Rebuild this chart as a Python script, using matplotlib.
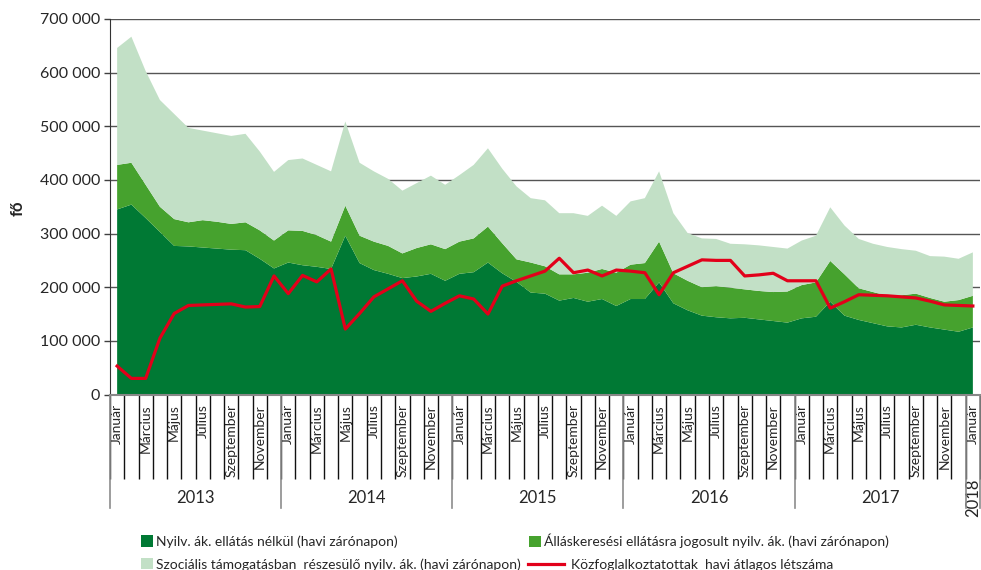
import matplotlib
matplotlib.use("Agg")
import matplotlib.pyplot as plt
from matplotlib.patches import Patch
from matplotlib.lines import Line2D
from matplotlib.ticker import FuncFormatter, FixedLocator
import numpy as np

plt.rcParams['font.family'] = ['Lato', 'DejaVu Sans']

# ---- data (thousands of persons) ----
years = ["2013", "2014", "2015", "2016", "2017", "2018"]
month_names = ["Január", "", "Március", "", "Május", "", "Július", "",
               "Szeptember", "", "November", ""]
month_labels = month_names * 5 + ["Január"]

nyilv_ellatas_nelkul = [345, 354, 329, 303, 277, 276, 274, 272, 270, 269, 253, 235,
                        246, 241, 238, 234, 296, 245, 232, 225, 217, 220, 225, 212,
                        225, 228, 246, 226, 210, 190, 188, 175, 180, 173, 178, 165,
                        178, 178, 209, 170, 157, 147, 144, 142, 143, 140, 137, 134,
                        142, 145, 173, 147, 139, 133, 127, 125, 130, 125, 121, 117,
                        125]
allaskeresesi = [83, 78, 62, 47, 50, 45, 51, 50, 48, 52, 53, 52,
                 60, 64, 59, 51, 56, 51, 53, 52, 46, 53, 55, 59,
                 60, 63, 67, 56, 42, 56, 51, 49, 44, 54, 56, 62,
                 64, 67, 76, 56, 55, 53, 58, 57, 53, 53, 54, 58,
                 62, 64, 76, 77, 59, 58, 57, 60, 58, 55, 52, 59,
                 59]
szocialis = [218, 235, 212, 199, 196, 176, 167, 165, 164, 165, 147, 128,
             131, 135, 131, 131, 157, 136, 131, 125, 117, 121, 128, 120,
             124, 137, 146, 139, 136, 120, 123, 114, 114, 106, 118, 106,
             118, 121, 131, 112, 89, 91, 88, 82, 84, 85, 84, 80,
             83, 87, 100, 91, 92, 90, 91, 86, 80, 78, 84, 77,
             81]
kozfoglalkoztatottak = [53, 30, 30, 105, 151, 166, 167, 168, 169, 163, 164, 221,
                        188, 222, 210, 234, 122, 151, 182, 197, 212, 174, 155, 170,
                        184, 178, 150, 202, 212, 221, 230, 254, 227, 232, 221, 232,
                        230, 227, 186, 227, 239, 251, 250, 250, 221, 223, 226, 212,
                        212, 212, 161, 173, 186, 185, 184, 182, 180, 174, 167, 166,
                        165]

series_labels = ["Nyilv. ák. ellátás nélkül (havi zárónapon)",
                 "Álláskeresési ellátásra jogosult nyilv. ák. (havi zárónapon)",
                 "Szociális támogatásban  részesülő nyilv. ák. (havi zárónapon)",
                 "Közfoglalkoztatottak  havi átlagos létszáma"]

c_dark, c_mid, c_light, c_red = "#007934", "#46A22E", "#C2E0C6", "#E2001A"

n = len(month_labels)
x = np.arange(n)
k = 1000

W, H = 981, 570
fig = plt.figure(figsize=(W / 100, H / 100), dpi=100)
ax = fig.add_axes([110 / W, (H - 394.5) / H, 870 / W, 375.5 / H])

ax.stackplot(x, np.array(nyilv_ellatas_nelkul) * k, np.array(allaskeresesi) * k,
             np.array(szocialis) * k, colors=[c_dark, c_mid, c_light], lw=0)
ax.plot(x, np.array(kozfoglalkoztatottak) * k, color=c_red, lw=2.3, zorder=5)

ax.set_xlim(-0.5, n - 0.5)
ax.set_ylim(0, 700000)
ax.set_yticks(np.arange(0, 700001, 100000))
ax.yaxis.set_major_formatter(FuncFormatter(lambda v, p: f"{v:,.0f}".replace(",", " ")))
ax.tick_params(axis='y', labelsize=11.5, length=4, width=1, color='#404040', pad=3,
               labelcolor='#262626')
ax.yaxis.grid(True, color='#555555', lw=1.0)
ax.set_axisbelow(True)
for g in ax.yaxis.get_gridlines():
    g.set_zorder(0.5)

for s in ['top', 'right']:
    ax.spines[s].set_visible(False)
ax.spines['left'].set_color('#333333')
ax.spines['bottom'].set_color('#888888')
ax.spines['bottom'].set_linewidth(1.5)

# month labels
ax.set_xticks(x)
ax.set_xticklabels(month_labels, rotation=90, fontsize=10, color='#262626',
                   va='top', ha='center')
ax.tick_params(axis='x', which='major', length=0, pad=7)
ax.xaxis.set_minor_locator(FixedLocator(np.arange(-0.5, n, 1.0)))
ax.tick_params(axis='x', which='minor', length=60.5, width=1.0, color='#111111')

# year row
trans = ax.get_xaxis_transform()
y_sep = -(508 - 394.5) / 375.5
y_year = -(498 - 394.5) / 375.5
bounds = [-0.5] + [12 * i + 11.5 for i in range(5)] + [n - 0.5]
for b in bounds:
    ax.plot([b, b], [0, y_sep], transform=trans, color='#8c8c8c', lw=1.2,
            clip_on=False, zorder=6)
for i, yr in enumerate(years):
    lo, hi = bounds[i], bounds[i + 1]
    rot = 90 if (hi - lo) < 2 else 0
    ax.text((lo + hi) / 2, y_year, yr, transform=trans, ha='center', va='center',
            fontsize=12, color='#262626', rotation=rot)

fig.text(18 / W, 1 - 208 / H, "fő", rotation=90, ha='center', va='center',
         fontsize=12, fontweight='bold', color='#262626')

# legends
lg_kw = dict(frameon=False, fontsize=10, borderpad=0, borderaxespad=0,
             labelcolor='#262626', handletextpad=0.25)
h_dark = Patch(facecolor=c_dark)
h_light = Patch(facecolor=c_light)
h_mid = Patch(facecolor=c_mid)
h_red = Line2D([], [], color=c_red, lw=2.3)
leg1 = fig.legend([h_dark, h_light], [series_labels[0], series_labels[2]],
                  loc='center left', bbox_to_anchor=(141 / W, 1 - 553 / H),
                  handlelength=0.85, handleheight=0.85, labelspacing=0.75, **lg_kw)
leg2 = fig.legend([h_mid], [series_labels[1]], loc='center left',
                  bbox_to_anchor=(529 / W, 1 - 541 / H),
                  handlelength=0.85, handleheight=0.85, **lg_kw)
leg3 = fig.legend([h_red], [series_labels[3]], loc='center left',
                  bbox_to_anchor=(528 / W, 1 - 565 / H),
                  handlelength=2.6, **{**lg_kw, 'handletextpad': 0.5})

fig.savefig("out.png", dpi=100)
